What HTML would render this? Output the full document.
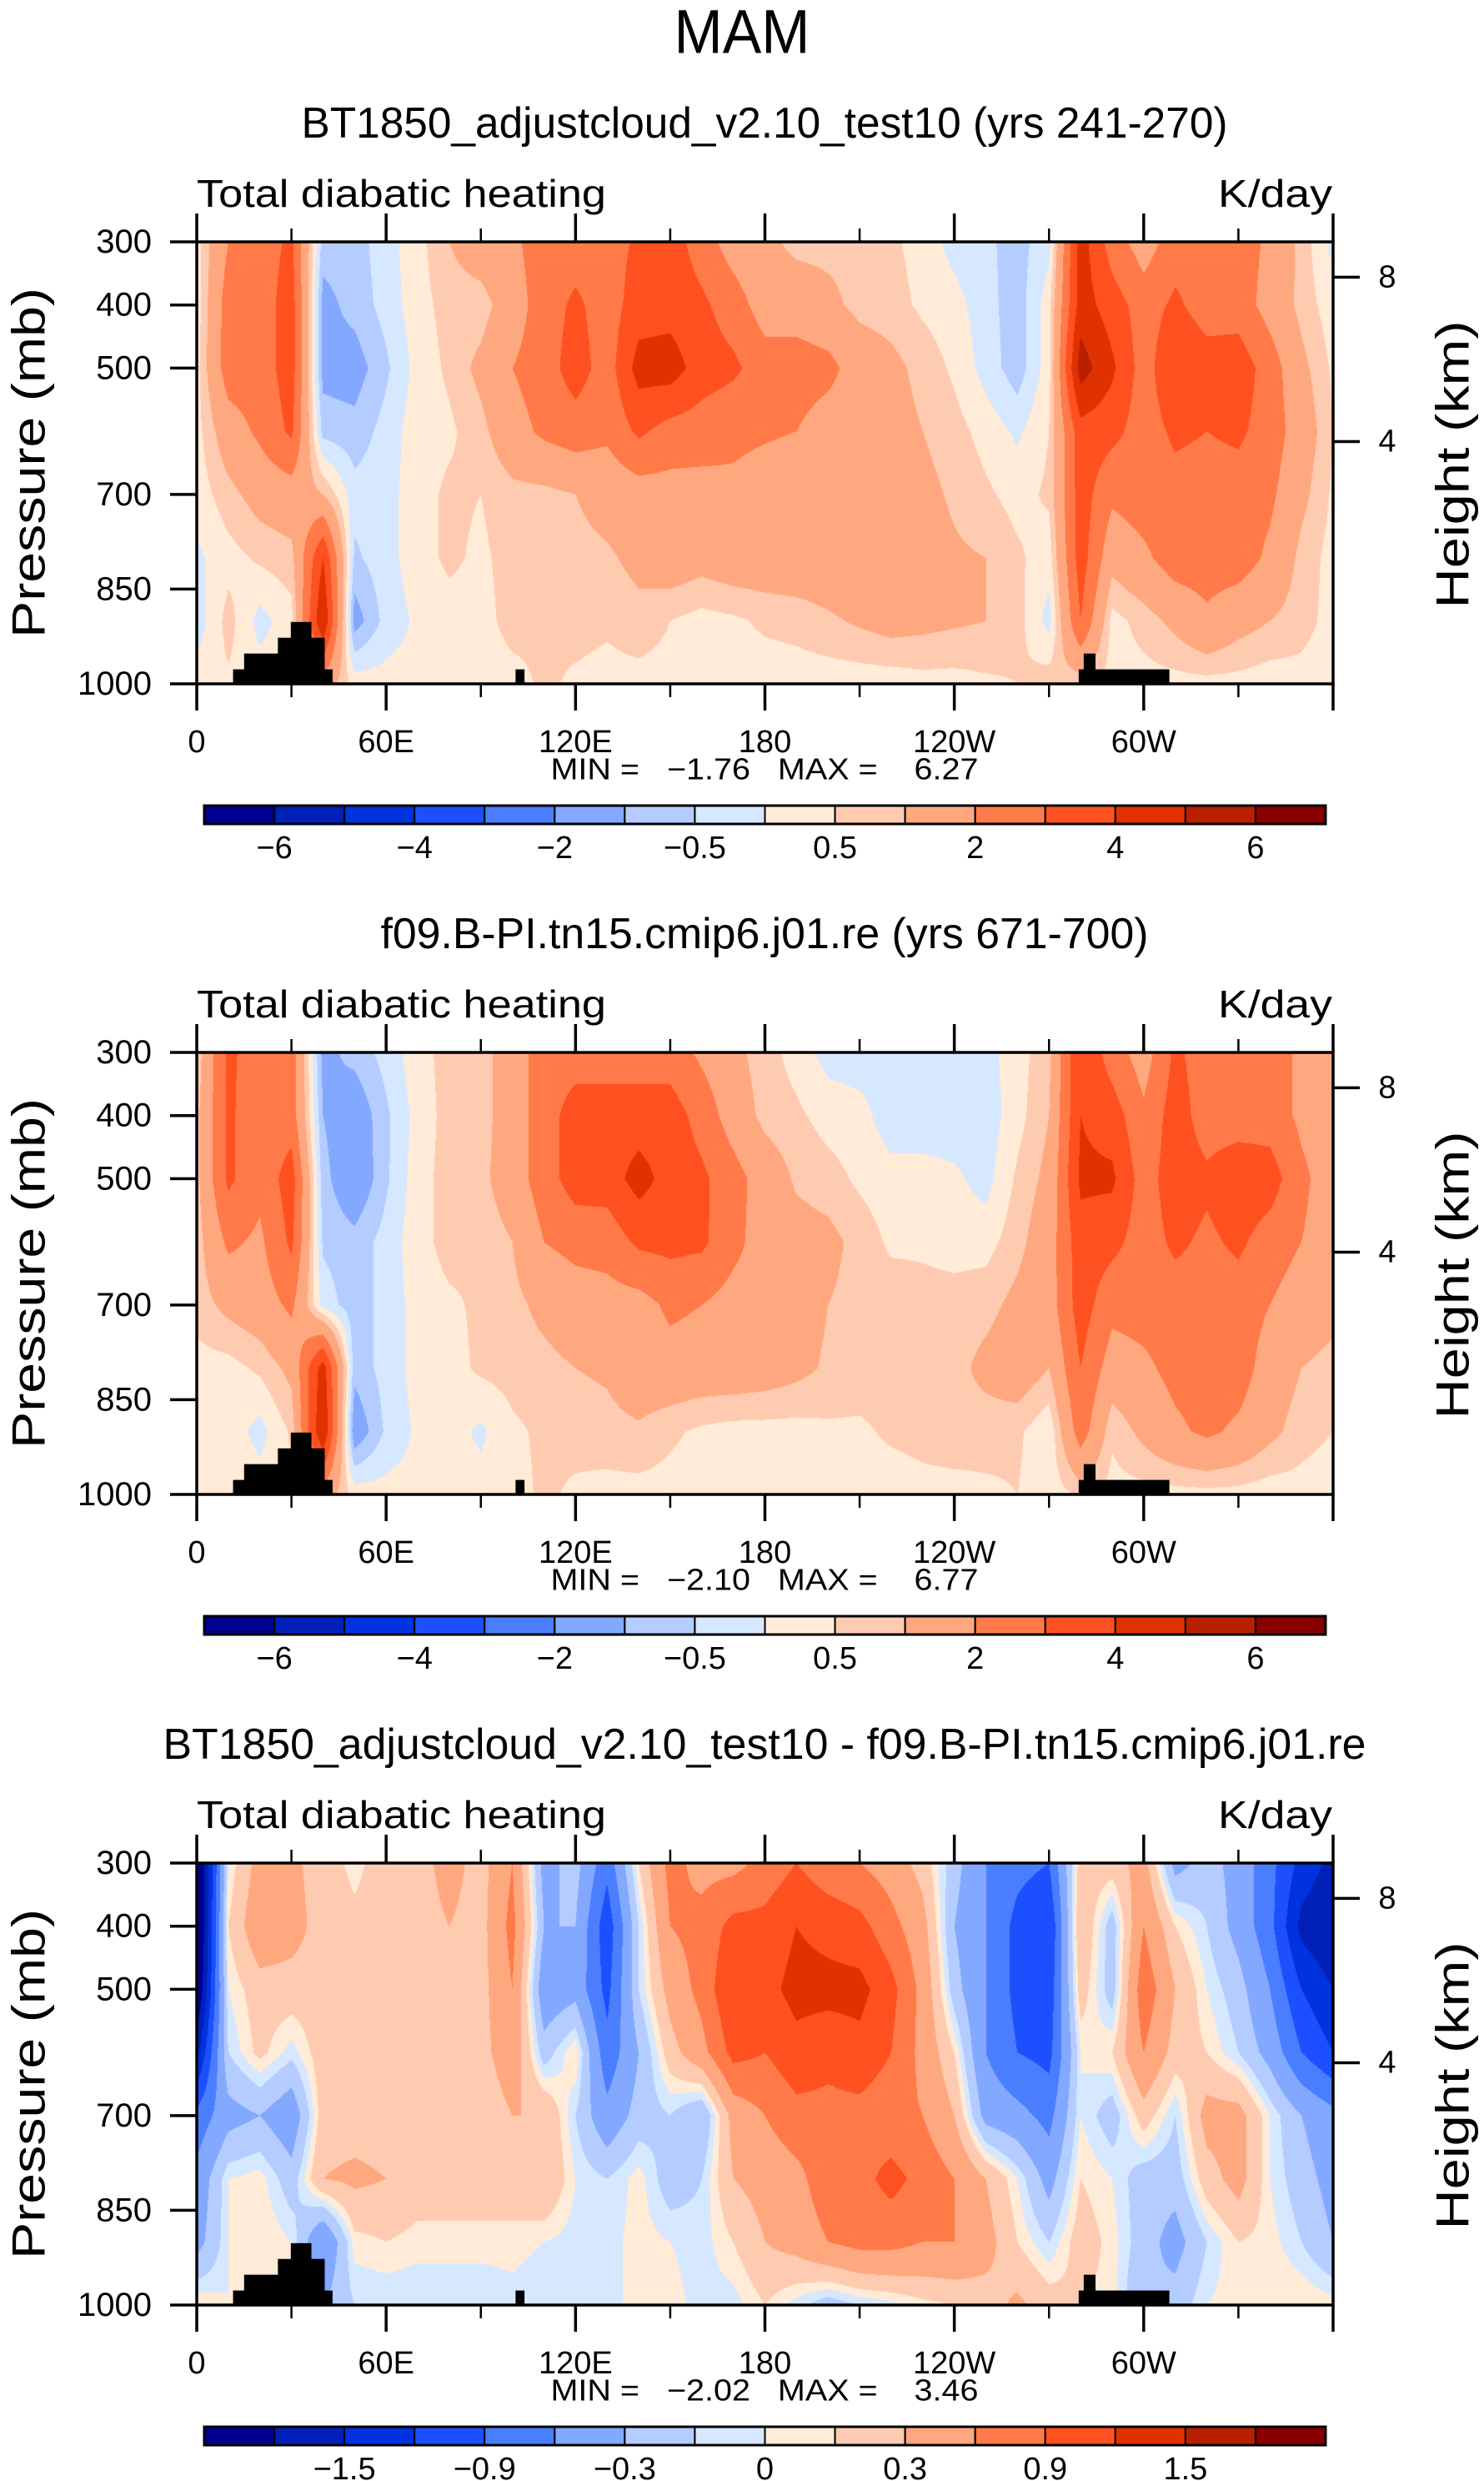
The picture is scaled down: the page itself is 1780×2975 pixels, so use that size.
<!DOCTYPE html>
<html><head><meta charset="utf-8">
<style>
html,body{margin:0;padding:0;background:#fff;}
#wrap{position:relative;width:1780px;height:2975px;overflow:hidden;background:#fff;}
canvas{position:absolute;z-index:0;}
svg{position:absolute;left:0;top:0;z-index:1;}
text{font-family:"Liberation Sans",sans-serif;fill:#000;}
</style></head>
<body>
<div id="wrap">
<canvas id="c0" width="1363" height="530" style="left:236px;top:290px"></canvas>
<canvas id="c1" width="1363" height="530" style="left:236px;top:1262px"></canvas>
<canvas id="c2" width="1363" height="530" style="left:236px;top:2234px"></canvas>
<svg id="svg" width="1780" height="2975" xmlns="http://www.w3.org/2000/svg">
<text x="890" y="38" font-size="74" text-anchor="middle" dominant-baseline="central" textLength="163" lengthAdjust="spacingAndGlyphs" fill="#555">MAM</text>
</svg>
</div>
<script>
// ---------------- data ----------------
const lons = [0,10,20,30,40,50,60,70,80,90,100,110,120,130,140,150,160,170,180,190,200,210,220,230,240,250,260,270,280,290,300,310,320,330,340,350,360];
const plevs = [300,400,500,600,700,800,900,1000];

const heat1 = [
[0.3,2.0,2.5,3.2,-0.75,-0.75,-0.2,0.3,1.0,1.5,1.8,2.5,2.5,2.5,3.2,3.5,2.5,1.5,1.2,0.8,0.8,0.8,0.6,0.3,-0.2,-0.4,-0.7,-0.2,4.5,2.5,1.5,2.5,2.5,2.5,1.8,0.8,-0.2],
[0.2,2.5,2.5,3.5,-1.2,-0.8,-0.3,0.3,0.7,0.7,1.5,2.5,3.2,2.5,3.5,3.6,3.2,2.5,1.5,1.5,1.2,0.8,0.7,0.4,0.2,-0.3,-0.8,0.3,4.5,3.5,2.5,3.2,2.5,2.5,1.6,0.8,0.2],
[0.3,2.5,2.5,3.5,-1.2,-1.3,-0.6,0.2,0.6,1.2,2.0,2.5,3.5,2.5,4.4,4.5,3.5,3.2,2.5,2.5,2.3,1.5,1.2,0.8,0.4,-0.2,-0.8,0.3,5.5,4.2,2.5,4.0,3.5,3.6,2.5,1.2,0.4],
[0.3,1.5,2.2,3.2,-0.7,-0.8,-0.3,0.3,0.4,0.8,1.6,2.2,2.5,2.2,3.2,2.6,2.5,2.2,2.1,2.0,1.5,1.4,1.3,1.0,0.7,0.3,-0.1,0.5,3.6,3.3,2.5,3.2,3.0,3.2,2.5,1.5,0.5],
[0.2,0.8,1.3,1.5,1.0,-0.3,-0.2,0.3,0.6,0.5,0.8,0.8,1.0,1.3,1.5,1.6,1.6,1.8,1.6,1.5,1.5,1.5,1.4,1.2,0.9,0.6,0.3,0.6,3.5,2.2,2.5,2.6,2.5,2.5,2.2,1.2,0.4],
[-0.1,0.3,0.6,0.8,4.0,-0.6,-0.2,0.3,0.6,0.4,0.7,0.8,0.8,0.9,1.2,1.5,1.3,1.5,1.5,1.5,1.5,1.5,1.4,1.3,1.1,1.0,0.6,0.2,3.5,1.3,1.8,2.5,2.5,2.5,1.8,0.8,0.3],
[-0.3,0.7,-0.2,0.3,5.0,-1.3,-0.3,0.1,0.3,0.3,0.7,0.6,0.7,0.6,0.8,0.5,0.3,0.4,0.6,0.7,0.9,1.1,1.3,1.2,1.1,1.0,0.7,-0.2,3.0,0.3,0.7,1.2,1.8,1.3,1.0,0.7,0.3],
[0.3,0.4,0.3,0.3,1.5,0.3,0.2,0.2,0.2,0.2,0.3,0.6,0.4,0.3,0.3,0.3,0.2,0.2,0.2,0.2,0.2,0.2,0.2,0.3,0.3,0.4,0.5,0.8,0.6,0.3,0.3,0.3,0.3,0.3,0.2,0.3,0.2]
];
const heat2 = [
[0.6,3.2,2.5,2.5,-1.2,-0.8,-0.3,0.3,0.7,0.7,1.5,2.5,2.5,2.5,2.5,2.5,1.8,1.2,0.7,0.3,-0.2,-0.3,-0.3,-0.3,-0.3,-0.2,0.3,0.8,4.0,2.5,1.5,3.2,2.5,2.5,2.5,1.8,1.5],
[0.8,3.2,2.3,2.5,-1.0,-1.5,-0.6,0.2,0.7,0.7,1.5,2.5,3.5,3.5,3.5,3.5,2.6,1.5,0.8,0.6,0.3,0.2,-0.3,-0.3,-0.3,-0.3,0.3,1.0,4.0,3.5,2.2,3.5,2.5,2.5,2.5,1.8,1.5],
[0.8,3.2,2.3,3.5,-0.8,-1.6,-0.6,0.3,0.7,0.8,1.5,2.5,3.5,3.5,4.4,3.6,3.2,2.4,1.5,0.9,0.7,0.4,0.2,0.2,0.1,-0.2,0.6,1.2,4.2,4.2,2.5,3.6,3.2,3.7,3.5,2.2,1.5],
[0.7,2.2,1.8,3.2,-0.6,-0.8,-0.3,0.3,0.7,0.6,1.0,2.0,2.3,2.4,3.2,3.3,3.2,2.3,1.5,1.3,1.2,0.8,0.4,0.4,0.3,0.3,0.8,1.5,3.6,3.3,2.5,3.2,2.8,3.2,2.5,2.0,1.5],
[0.7,1.2,1.5,2.2,-0.2,-0.8,-0.3,0.2,0.4,0.6,0.8,1.2,1.5,1.6,1.6,2.2,2.0,1.6,1.5,1.4,1.0,0.8,0.8,0.7,0.7,0.8,1.2,1.5,3.5,2.3,2.4,2.5,2.5,2.5,2.0,1.5,1.2],
[0.3,0.3,0.6,1.2,4.5,-0.8,-0.3,0.2,0.3,0.6,0.7,0.8,1.0,1.1,1.5,1.6,1.5,1.5,1.4,1.2,0.9,0.8,0.8,0.8,0.8,1.2,1.5,1.0,3.0,1.5,1.8,2.3,2.5,2.5,1.5,1.0,0.8],
[0.1,0.3,-0.2,0.6,5.0,-1.5,-0.4,0.1,0.2,-0.1,0.4,0.6,0.7,0.8,0.9,0.6,0.4,0.3,0.3,0.3,0.4,0.4,0.6,0.7,0.8,0.7,0.6,0.1,2.5,0.6,1.2,1.8,2.2,1.8,1.2,0.7,0.5],
[0.3,0.4,0.3,0.3,1.5,0.3,0.2,0.2,0.2,0.2,0.3,0.6,0.4,0.3,0.3,0.3,0.2,0.2,0.2,0.2,0.2,0.2,0.2,0.3,0.3,0.4,0.5,0.2,0.6,0.3,0.3,0.3,0.3,0.3,0.2,0.3,0.2]
];
const heat3 = [
[-2.4,0.0,0.4,0.35,0.2,0.05,0.2,0.2,0.4,0.2,0.6,-0.4,-0.2,-0.8,0.1,0.7,0.5,0.5,0.7,0.9,0.7,0.6,0.45,0.2,-0.2,-0.6,-0.8,-0.9,0.2,0.2,0.4,-0.4,-0.2,-0.4,-0.8,-1.3,-1.6],
[-2.4,0.1,0.5,0.4,0.2,0.15,0.2,0.2,0.3,0.2,0.7,-0.3,-0.3,-1.1,-0.1,0.6,0.7,1.0,1.0,1.2,1.1,1.0,0.7,0.4,-0.3,-0.6,-1.0,-1.2,0.3,-0.2,0.6,0.1,-0.1,-0.4,-0.8,-1.6,-1.8],
[-2.2,0.0,0.2,0.2,0.2,0.2,0.2,0.2,0.25,0.2,0.6,-0.5,-0.4,-1.0,-0.1,0.4,0.7,1.2,1.1,1.3,1.3,1.3,1.0,0.5,-0.2,-0.6,-1.0,-1.1,0.2,-0.2,0.8,0.3,0.0,-0.2,-0.6,-1.2,-1.5],
[-1.6,-0.1,0.15,-0.05,0.2,0.2,0.2,0.2,0.2,0.2,0.5,-0.2,0.1,-0.8,-0.3,0.2,0.5,1.0,0.9,1.1,1.0,1.1,0.9,0.5,0.1,-0.6,-0.9,-1.0,0.0,0.1,0.6,0.2,0.1,-0.1,-0.4,-0.9,-1.2],
[-0.8,-0.4,-0.3,-0.5,0.2,0.2,0.2,0.2,0.2,0.1,0.3,0.3,-0.1,-0.5,-0.2,-0.1,-0.3,0.4,0.6,0.8,0.8,0.8,0.7,0.6,0.3,-0.4,-0.5,-0.7,0.0,-0.2,0.2,-0.1,0.4,0.4,0.0,-0.3,-0.5],
[-0.5,0.0,0.05,-0.2,0.3,0.35,0.3,0.2,0.2,0.2,0.2,0.3,0.0,-0.1,0.05,-0.2,-0.1,0.3,0.4,0.5,0.8,0.8,1.0,0.8,0.6,0.3,0.0,-0.4,0.1,0.0,-0.2,-0.2,0.2,0.4,0.0,-0.2,-0.4],
[-0.4,0.0,0.1,0.0,-0.6,0.05,0.1,0.05,0.05,0.05,0.05,0.0,-0.05,-0.05,0.05,0.0,-0.05,0.1,0.3,0.4,0.6,0.7,0.7,0.6,0.6,0.4,0.1,-0.1,0.2,0.05,-0.2,-0.4,-0.1,0.1,0.05,-0.1,-0.3],
[0.1,0.0,0.0,0.0,-0.3,-0.1,-0.1,-0.1,-0.1,-0.1,-0.05,-0.1,-0.1,-0.05,0.05,0.05,-0.05,-0.05,0.1,-0.05,-0.2,-0.1,-0.05,0.05,0.1,0.2,0.35,0.2,0.1,0.05,-0.3,-0.2,0.0,0.05,0.1,0.1,0.05]
];

const levelsFull = [-6,-5,-4,-3,-2,-1,-0.5,0,0.5,1,2,3,4,5,6];
const levelsDiff = [-1.8,-1.5,-1.2,-0.9,-0.6,-0.3,-0.1,0,0.1,0.3,0.6,0.9,1.2,1.5,1.8];
const cbarLabelsFull = ["−6","−4","−2","−0.5","0.5","2","4","6"];
const cbarLabelsDiff = ["−1.5","−0.9","−0.3","0","0.3","0.9","1.5"];

const topoLon0 = [11.5,15,25.7,29.8,36.2,40.4,101,279.4,281,284.6];
const topoLon1 = [15,25.7,29.8,36.2,40.4,42.9,103.7,281,284.6,308];
const topoP    = [977,952,927,902,927,977,977,977,952,977];

const xTickLons = [0,60,120,180,240,300,360];
const xTickLabels = ["0","60E","120E","180","120W","60W",""];
const xMinorLons = [30,90,150,210,270,330];
const pTicks = [300,400,500,700,850,1000];
const heightKm = [8,4];

const titles = ["BT1850_adjustcloud_v2.10_test10 (yrs 241-270)","f09.B-PI.tn15.cmip6.j01.re (yrs 671-700)","BT1850_adjustcloud_v2.10_test10 - f09.B-PI.tn15.cmip6.j01.re"];
const titleWidths = [1111,921,1443];
const minVals = ["−1.76","−2.10","−2.02"];
const maxVals = ["6.27","6.77","3.46"];

const colors = ["#000090","#0020b8","#0032e0","#1c50ff","#4a7eff","#82a8ff","#b4ccff","#d6e8ff","#ffebd8","#ffcbb0","#ffa880","#ff7a48","#ff5020","#e03200","#b82000","#880000"];

// ---------------- geometry ----------------
const X0=236, W=1363, H=530, tops=[290,1262,2234];
function xOf(lon){return X0+lon/360*W;}
function yOf(p,T){return T+(p-300)/700*H;}
function pOfKm(z){return 1013.25*Math.pow(1-2.25577e-5*z*1000,5.25588);}

const NS="http://www.w3.org/2000/svg";
const svg=document.getElementById('svg');
function el(tag,attrs,parent){const e=document.createElementNS(NS,tag);for(const k in attrs)e.setAttribute(k,attrs[k]);(parent||svg).appendChild(e);return e;}
function txt(s,attrs,parent){const e=el('text',attrs,parent);e.textContent=s;return e;}

function hexToRgb(h){return [parseInt(h.substr(1,2),16),parseInt(h.substr(3,2),16),parseInt(h.substr(5,2),16)];}
const rgb=colors.map(hexToRgb);

function classOf(v,levels){let k=0;while(k<levels.length&&v>=levels[k])k++;return k;}

function drawField(cid,data,levels){
  const c=document.getElementById(cid),ctx=c.getContext('2d');
  const img=ctx.createImageData(W,H),d=img.data;
  const nL=lons.length,nP=plevs.length;
  for(let py=0;py<H;py++){
    const p=300+(py+0.5)/H*700;
    let j=0;while(j<nP-2&&p>plevs[j+1])j++;
    const ty=Math.min(1,Math.max(0,(p-plevs[j])/(plevs[j+1]-plevs[j])));
    const r0=data[j],r1=data[j+1];
    for(let px=0;px<W;px++){
      const lon=(px+0.5)/W*360;
      let i=Math.min(nL-2,Math.floor(lon/10));
      const tx=(lon-lons[i])/(lons[i+1]-lons[i]);
      const a=r0[i]*(1-tx)+r0[i+1]*tx,b=r1[i]*(1-tx)+r1[i+1]*tx;
      const v=a*(1-ty)+b*ty;
      const col=rgb[classOf(v,levels)];
      const o=(py*W+px)*4;d[o]=col[0];d[o+1]=col[1];d[o+2]=col[2];d[o+3]=255;
    }
  }
  ctx.putImageData(img,0,0);
}
drawField('c0',heat1,levelsFull);
drawField('c1',heat2,levelsFull);
drawField('c2',heat3,levelsDiff);

function panel(idx){
  const T=tops[idx];
  const g=el('g',{});
  
  
  const t=txt(titles[idx],{x:917,y:T-142,'font-size':52,'text-anchor':'middle','dominant-baseline':'central',textLength:titleWidths[idx],lengthAdjust:'spacingAndGlyphs'},g);
  
  
  const s=txt("Total diabatic heating",{x:236,y:T-42,'font-size':46,textLength:491,lengthAdjust:'spacingAndGlyphs'},g);
  
  
  const u=txt("K/day",{x:1461,y:T-42,'font-size':46,textLength:137,lengthAdjust:'spacingAndGlyphs'},g);
  
  
  for(let k=0;k<topoP.length;k++){
    const r=el('rect',{x:xOf(topoLon0[k]),y:yOf(topoP[k],T),width:xOf(topoLon1[k])-xOf(topoLon0[k])+0.5,height:yOf(1000,T)-yOf(topoP[k],T),fill:'#000'},g);
    
    
  }
  const f=el('rect',{x:X0,y:T,width:W,height:H,fill:'none',stroke:'#000','stroke-width':3.5},g);
  
  
  for(let k=0;k<xTickLons.length;k++){
    const x=xOf(xTickLons[k]);
    el('line',{x1:x,x2:x,y1:T+H,y2:T+H+32,stroke:'#000','stroke-width':3.5},g);
    el('line',{x1:x,x2:x,y1:T,y2:T-34,stroke:'#000','stroke-width':3.5},g);
    if(xTickLabels[k]){
      const l=txt(xTickLabels[k],{x:x,y:T+H+70,'font-size':38,'text-anchor':'middle','dominant-baseline':'central'},g);
      
      
    }
  }
  for(const m of xMinorLons){
    const x=xOf(m);
    el('line',{x1:x,x2:x,y1:T+H,y2:T+H+16,stroke:'#000','stroke-width':2.5},g);
    el('line',{x1:x,x2:x,y1:T,y2:T-16,stroke:'#000','stroke-width':2.5},g);
  }
  for(const p of pTicks){
    const y=yOf(p,T);
    el('line',{x1:X0-32,x2:X0,y1:y,y2:y,stroke:'#000','stroke-width':3.5},g);
    const l=txt(String(p),{x:182,y:y,'font-size':40,'text-anchor':'end','dominant-baseline':'central'},g);
    
    
  }
  const yt=txt("Pressure (mb)",{x:0,y:0,'font-size':56,'text-anchor':'middle','dominant-baseline':'central',transform:`translate(34,${T+265}) rotate(-90)`,textLength:420,lengthAdjust:'spacingAndGlyphs'},g);
  
  
  for(const z of heightKm){
    const y=yOf(pOfKm(z),T);
    el('line',{x1:X0+W,x2:X0+W+32,y1:y,y2:y,stroke:'#000','stroke-width':3.5},g);
    const l=txt(String(z),{x:1664,y:y,'font-size':38,'text-anchor':'middle','dominant-baseline':'central'},g);
    
    
  }
  const ht=txt("Height (km)",{x:0,y:0,'font-size':56,'text-anchor':'middle','dominant-baseline':'central',transform:`translate(1742,${T+267}) rotate(-90)`,textLength:345,lengthAdjust:'spacingAndGlyphs'},g);
  
  
  const mm=txt(`MIN =   ${minVals[idx]}   MAX =    ${maxVals[idx]}`,{x:917,y:T+632,'font-size':36,'text-anchor':'middle','dominant-baseline':'central',textLength:513,lengthAdjust:'spacingAndGlyphs',style:'white-space:pre'},g);
  
  
  const cb=el('g',{},g);
  
  
  const cx0=245,cx1=1590,cw=(cx1-cx0)/16,cy=T+676,ch=22;
  for(let k=0;k<16;k++){
    const r=el('rect',{x:cx0+k*cw,y:cy,width:cw,height:ch,fill:colors[k],stroke:'#000','stroke-width':2},cb);
    
    
  }
  el('rect',{x:cx0,y:cy,width:cx1-cx0,height:ch,fill:'none',stroke:'#000','stroke-width':3},cb);
  const labs=idx<2?cbarLabelsFull:cbarLabelsDiff;
  const start=idx<2?1:2;
  for(let k=0;k<labs.length;k++){
    const b=start+2*k;
    const l=txt(labs[k],{x:cx0+b*cw,y:T+727,'font-size':38,'text-anchor':'middle','dominant-baseline':'central'},cb);
    
    
  }
}
panel(0);panel(1);panel(2);
</script>
</body></html>
